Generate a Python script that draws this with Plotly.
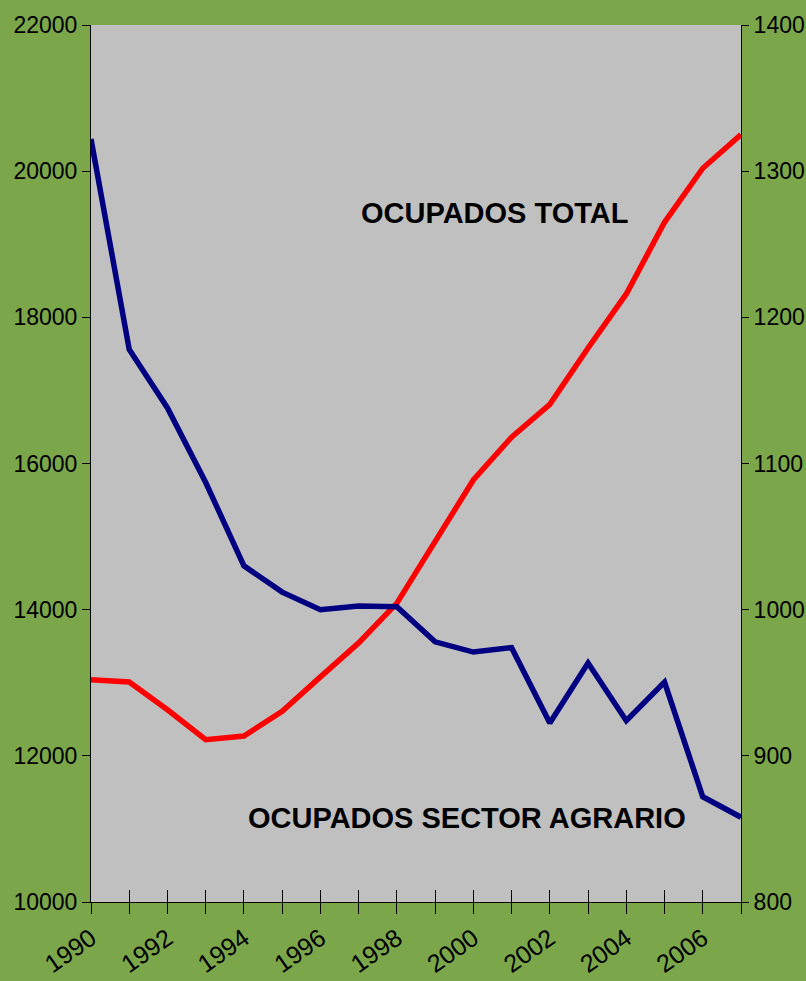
import plotly.graph_objects as go

years = list(range(1990, 2008))
ocupados_total = [13040, 13010, 12630, 12220, 12270, 12610, 13080, 13545, 14090,
                  14950, 15775, 16360, 16810, 17580, 18320, 19300, 20040, 20500]
ocupados_agrario = [1322, 1178, 1138, 1087, 1030, 1012, 1000, 1002.5, 1002,
                    978, 971, 974, 922.5, 963.5, 924, 950.5, 872, 858]
x_tick_vals = list(range(1990, 2007, 2))
left_ticks = [10000, 12000, 14000, 16000, 18000, 20000, 22000]
right_ticks = [800, 900, 1000, 1100, 1200, 1300, 1400]

GREEN = "#7BA64A"
PLOT_BG = "#C0C0C0"
FONT = "Liberation Sans Narrow, Arial Narrow, Liberation Sans, Arial, sans-serif"
TICK_SIZE = 23

fig = go.Figure()
fig.add_trace(go.Scatter(x=years, y=ocupados_total, mode="lines",
                         line=dict(color="#FF0000", width=5.5), name="OCUPADOS TOTAL",
                         yaxis="y"))
fig.add_trace(go.Scatter(x=years, y=ocupados_agrario, mode="lines",
                         line=dict(color="#000080", width=5.5), name="OCUPADOS SECTOR AGRARIO",
                         yaxis="y2"))
# invisible trace so that the overlay x axis (inside ticks) is drawn
fig.add_trace(go.Scatter(x=[years[0]], y=[left_ticks[0]], xaxis="x2", yaxis="y",
                         mode="markers", marker=dict(opacity=0), hoverinfo="skip",
                         showlegend=False))

fig.update_layout(
    width=806, height=981,
    paper_bgcolor=GREEN, plot_bgcolor=PLOT_BG,
    margin=dict(l=91, r=65, t=25, b=79),
    showlegend=False,
    font=dict(family=FONT, size=TICK_SIZE, color="black"),
    xaxis=dict(range=[1990, 2007], tickmode="array", tickvals=x_tick_vals,
               ticktext=[str(v) for v in x_tick_vals], tickangle=-35,
               ticks="outside", ticklen=11, tickwidth=1, tickcolor="black",
               minor=dict(ticks="outside", dtick=1, ticklen=11, tickcolor="black", tickwidth=1),
               showline=True, linecolor="black", linewidth=1, showgrid=False,
               zeroline=False, automargin=False,
               tickfont=dict(size=25, family=FONT)),
    xaxis2=dict(range=[1990, 2007], overlaying="x", anchor="y", side="bottom",
                tickmode="linear", dtick=1, tick0=1990, ticks="inside", ticklen=12,
                tickcolor="black", showticklabels=False, showgrid=False, zeroline=False,
                automargin=False),
    yaxis=dict(range=[10000, 22000], tickmode="array", tickvals=left_ticks,
               ticktext=[str(v) for v in left_ticks],
               ticks="outside", ticklen=8, tickcolor="black", showline=True,
               linecolor="black", linewidth=1, showgrid=False, zeroline=False,
               automargin=False, tickfont=dict(size=TICK_SIZE, family=FONT)),
    yaxis2=dict(range=[800, 1400], tickmode="array", tickvals=right_ticks,
                ticktext=[str(v) for v in right_ticks],
                overlaying="y", side="right", ticks="outside", ticklen=7,
                tickcolor="black", showline=True, linecolor="black", linewidth=1,
                showgrid=False, zeroline=False, automargin=False,
                tickfont=dict(size=TICK_SIZE, family=FONT)),
    annotations=[
        dict(text="<b>OCUPADOS TOTAL</b>", xref="paper", yref="paper",
             x=0.6215, y=0.7856, showarrow=False, xanchor="center", yanchor="middle",
             font=dict(family="Liberation Sans, Arial, sans-serif", size=29, color="black")),
        dict(text="<b>OCUPADOS SECTOR AGRARIO</b>", xref="paper", yref="paper",
             x=0.579, y=0.0958, showarrow=False, xanchor="center", yanchor="middle",
             font=dict(family="Liberation Sans, Arial, sans-serif", size=29, color="black")),
    ],
)

fig.write_html(
    "out.html",
    config={"displayModeBar": False},
    post_script="document.body.style.margin='0';document.body.style.padding='0';"
                "document.body.style.background='" + GREEN + "';",
)
